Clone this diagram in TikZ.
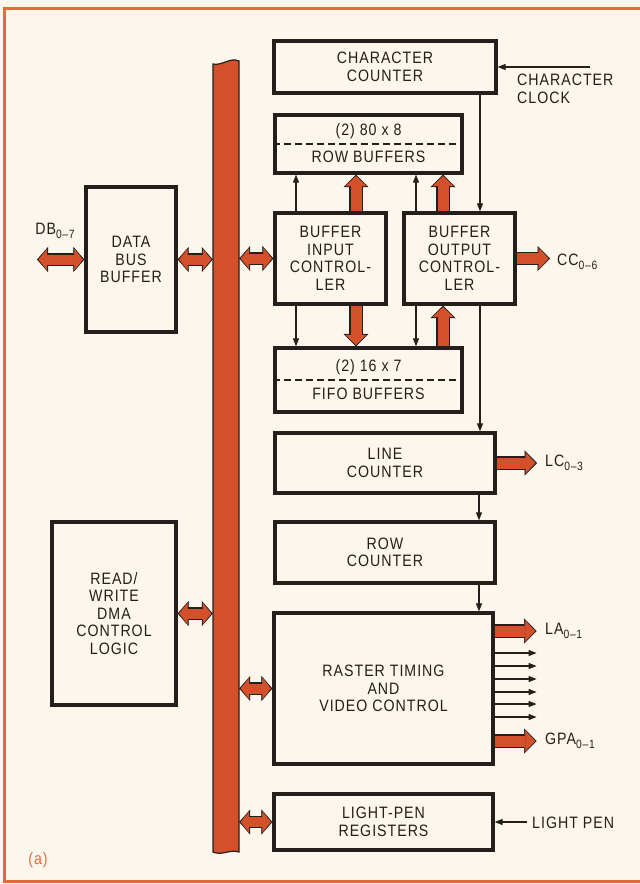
\documentclass[tikz,border=0pt]{standalone}
\usepackage{fontspec}
\setmainfont{Liberation Sans}[FakeStretch=0.86,LetterSpace=6]
\usetikzlibrary{arrows.meta}
\definecolor{paper}{HTML}{FCF6EC}
\definecolor{ink}{HTML}{241F1B}
\definecolor{busred}{HTML}{D4502A}
\definecolor{framered}{HTML}{E8683C}
\newcommand\ix[1]{\raisebox{-0.45ex}{\fontsize{12}{12}\selectfont #1}}

\begin{document}
\begin{tikzpicture}[x=1pt, y=-1pt,
  every node/.style={text=ink, font=\fontsize{16.5}{17.5}\selectfont, align=center, inner sep=0pt},
  blk/.style={draw=ink, line width=3.2pt, fill=paper},
  sep/.style={draw=ink, line width=1.3pt, dash pattern=on 7pt off 4pt},
  sig/.style={draw=ink, line width=1.1pt, -{Triangle[length=8pt,width=6pt]}},
  fat/.style={draw=busred, line width=11pt, shorten >=1.5pt,
    -{Triangle[length=10pt,width=21pt,line width=0.5pt]},
    preaction={draw=ink, line width=13.5pt, shorten >=0pt,
      -{Triangle[length=12.5pt,width=25pt,line width=0.5pt]}}},
  fatboth/.style={draw=busred, line width=10pt, shorten >=1.5pt, shorten <=1.5pt,
    {Triangle[length=8.5pt,width=21pt,line width=0.5pt]}-{Triangle[length=8.5pt,width=21pt,line width=0.5pt]},
    preaction={draw=ink, line width=12.5pt, shorten >=0pt, shorten <=0pt,
      {Triangle[length=11pt,width=25pt,line width=0.5pt]}-{Triangle[length=11pt,width=25pt,line width=0.5pt]}}},
  lbl/.style={anchor=west}]
  \useasboundingbox (0,0) rectangle (640,884);
  \fill[paper] (0,0) rectangle (640,884);
  \draw[framered, line width=3pt] (645,8) -- (4,8) -- (4,881) -- (645,881);

  \node[minimum width=26pt, minimum height=788pt] (bus) at (226,458) {};
  \draw[fill=busred, draw=ink, line width=1.2pt] (213,852) -- (213,64)
    .. controls (222,66) and (230,57) .. (239,61) -- (239,852)
    .. controls (230,849) and (222,856) .. (213,852) -- cycle;

  \node[blk, minimum width=90pt, minimum height=145pt] (dbb) at (131,259.5) {DATA\\BUS\\BUFFER};
  \node[blk, minimum width=124pt, minimum height=183pt] (dma) at (114,613.5) {READ/\\WRITE\\DMA\\CONTROL\\LOGIC};
  \node[blk, minimum width=222pt, minimum height=52pt] (charcnt) at (385,67) {CHARACTER\\COUNTER};
  \node[blk, minimum width=187pt, minimum height=58pt] (rowbuf) at (368.5,144) {};
  \node[blk, minimum width=111pt, minimum height=91pt] (bic) at (330.5,258.5) {BUFFER\\INPUT\\CONTROL-\\LER};
  \node[blk, minimum width=111pt, minimum height=91pt] (boc) at (459.5,258.5) {BUFFER\\OUTPUT\\CONTROL-\\LER};
  \node[blk, minimum width=187pt, minimum height=64pt] (fifo) at (368.5,380) {};
  \node[blk, minimum width=220pt, minimum height=60pt] (linecnt) at (385,463) {LINE\\COUNTER};
  \node[blk, minimum width=220pt, minimum height=61pt] (rowcnt) at (385,552.5) {ROW\\COUNTER};
  \node[blk, minimum width=219pt, minimum height=151pt] (raster) at (383.5,688.5) {RASTER TIMING\\AND\\VIDEO CONTROL};
  \node[blk, minimum width=219pt, minimum height=56pt] (lpen) at (383.5,822) {LIGHT-PEN\\REGISTERS};

  \draw[sep] (rowbuf.west) -- (rowbuf.east);
  \node (rowbufsize) at (368.5,131) {(2) 80 x 8};
  \node (rowbufname) at (368.5,157) {ROW BUFFERS};
  \draw[sep] (fifo.west) -- (fifo.east);
  \node (fifosize) at (368.5,367) {(2) 16 x 7};
  \node (fifoname) at (368.5,394) {FIFO BUFFERS};

  \coordinate (clk) at (590,67);
  \coordinate (pen) at (527,822);
  \coordinate (dbend) at (37,259.5);
  \coordinate (ccend) at (550,258.5);
  \coordinate (lcend) at (537,463);

  \draw[sig] (clk) -- (charcnt.east);
  \draw[sig] ([xshift=95pt]charcnt.south) -- ([xshift=95pt]charcnt.south |- boc.north);
  \draw[sig] ([xshift=-34.5pt]bic.north) -- ([xshift=-34.5pt]bic.north |- rowbuf.south);
  \draw[sig] ([xshift=-34.5pt]bic.south) -- ([xshift=-34.5pt]bic.south |- fifo.north);
  \draw[sig] ([xshift=-43.5pt]boc.north) -- ([xshift=-43.5pt]boc.north |- rowbuf.south);
  \draw[sig] ([xshift=-43.5pt]boc.south) -- ([xshift=-43.5pt]boc.south |- fifo.north);
  \draw[sig] ([xshift=20.5pt]boc.south) -- ([xshift=20.5pt]boc.south |- linecnt.north);
  \draw[sig] ([xshift=94pt]linecnt.south) -- ([xshift=94pt]linecnt.south |- rowcnt.north);
  \draw[sig] ([xshift=94pt]rowcnt.south) -- ([xshift=94pt]rowcnt.south |- raster.north);
  \draw[sig] (pen) -- (lpen.east);
  \foreach \dy in {35.5,22.5,9.5,-3.5,-15.5,-28.5}
    \draw[sig] ([yshift=\dy pt]raster.east) -- ++(42,0);

  \draw[fat] ([xshift=25.5pt]bic.north) -- ([xshift=25.5pt]bic.north |- rowbuf.south);
  \draw[fat] ([xshift=25.5pt]bic.south) -- ([xshift=25.5pt]bic.south |- fifo.north);
  \draw[fat] ([xshift=-16.5pt]boc.north) -- ([xshift=-16.5pt]boc.north |- rowbuf.south);
  \draw[fat] ([xshift=-16.5pt]fifo.north -| boc.south) -- ([xshift=-16.5pt]boc.south);
  \draw[fat] (boc.east) -- (ccend);
  \draw[fat] (linecnt.east) -- (lcend);
  \draw[fat] ([yshift=57.5pt]raster.east) -- ++(42,0);
  \draw[fat] ([yshift=-52.5pt]raster.east) -- ++(42,0);

  \draw[fatboth] (dbend) -- (dbb.west);
  \draw[fatboth] (dbb.east) -- (bus.west |- dbb.east);
  \draw[fatboth] (bus.east |- bic.west) -- (bic.west);
  \draw[fatboth] (dma.east) -- (bus.west |- dma.east);
  \draw[fatboth] (bus.east |- raster.west) -- (raster.west);
  \draw[fatboth] (bus.east |- lpen.west) -- (lpen.west);

  \node (dblbl) at (55,231) {DB\ix{0--7}};
  \node[lbl] (clklbl) at (517,91) {\begin{tabular}{@{}l@{}}CHARACTER\\CLOCK\end{tabular}};
  \node[lbl] (cclbl) at (557,262) {CC\ix{0--6}};
  \node[lbl] (lclbl) at (545,463) {LC\ix{0--3}};
  \node[lbl] (lalbl) at (545,631) {LA\ix{0--1}};
  \node[lbl] (gpalbl) at (545,741) {GPA\ix{0--1}};
  \node[lbl] (penlbl) at (532,823) {LIGHT PEN};
  \node[text=framered] (tag) at (38,860) {(a)};
\end{tikzpicture}
\end{document}
